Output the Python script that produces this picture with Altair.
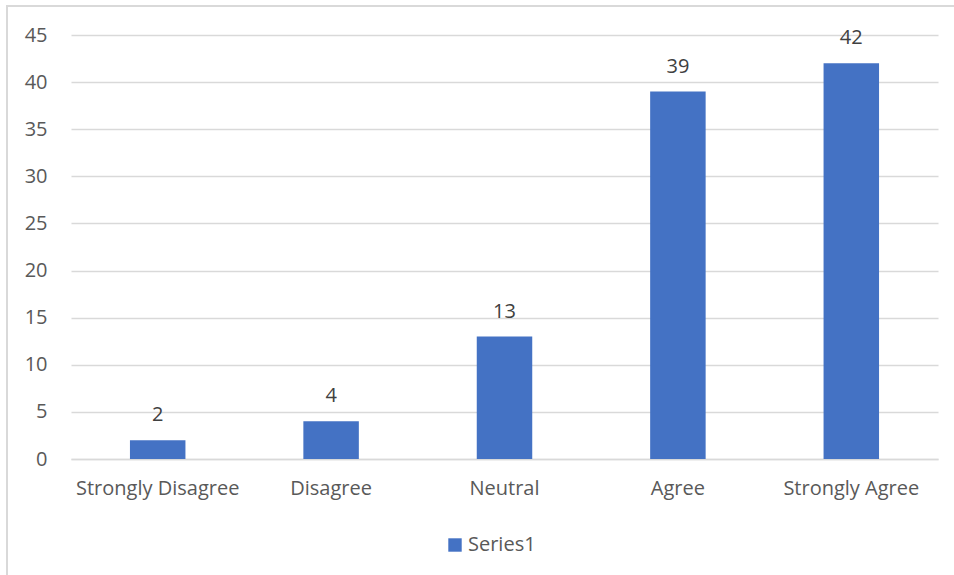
import altair as alt
import pandas as pd

categories = ["Strongly Disagree", "Disagree", "Neutral", "Agree", "Strongly Agree"]
counts = [2, 4, 13, 39, 42]
series_name = "Series1"
y_ticks = [0, 5, 10, 15, 20, 25, 30, 35, 40, 45]

df = pd.DataFrame({"category": categories, "count": counts, "series": series_name})

BLUE = "#4472C4"
GRID = "#d9d9d9"
FONT = "Open Sans"
FS = 20

x_enc = alt.X(
    "category:N",
    sort=categories,
    title=None,
    scale=alt.Scale(paddingInner=0.68, paddingOuter=0.34),
    axis=alt.Axis(
        labelAngle=0,
        labelFontSize=FS,
        labelColor="#595959",
        labelFont=FONT,
        labelPadding=19,
        ticks=False,
        domain=True,
        domainColor=GRID,
        domainWidth=1.5,
    ),
)
y_enc = alt.Y(
    "count:Q",
    title=None,
    scale=alt.Scale(domain=[0, 45], nice=False),
    axis=alt.Axis(
        values=y_ticks,
        labelFontSize=FS,
        labelColor="#595959",
        labelFont=FONT,
        labelPadding=24,
        ticks=False,
        domain=False,
        grid=True,
        gridColor=GRID,
        gridWidth=1.5,
    ),
)

bars = alt.Chart(df).mark_bar(color=BLUE).encode(
    x=x_enc,
    y=y_enc,
    color=alt.Color(
        "series:N",
        scale=alt.Scale(domain=[series_name], range=[BLUE]),
        legend=alt.Legend(
            title=None,
            orient="none",
            legendX=374,
            legendY=500,
            symbolType="square",
            symbolSize=180,
            symbolStrokeWidth=0,
            labelFontSize=FS,
            labelFont=FONT,
            labelColor="#595959",
            labelOffset=3,
        ),
    ),
)

labels = alt.Chart(df).mark_text(
    dy=-25, fontSize=FS, font=FONT, color="#404040"
).encode(
    x=alt.X("category:N", sort=categories),
    y=alt.Y("count:Q"),
    text=alt.Text("count:Q"),
)

# light outline of the chart area
frame = alt.Chart(df).mark_rect(
    fill=None, stroke=GRID, strokeWidth=2
).encode(
    x=alt.value(-64), x2=alt.value(950), y=alt.value(-29), y2=alt.value(600)
)

chart = (
    alt.layer(frame, bars, labels)
    .properties(
        width=867,
        height=424,
        padding={"left": 71, "top": 35, "right": 16, "bottom": 116},
        autosize=alt.AutoSizeParams(type="none"),
        background="white",
    )
    .configure_view(stroke=None)
)

chart.save("out.html", embed_options={"renderer": "svg", "actions": False})
